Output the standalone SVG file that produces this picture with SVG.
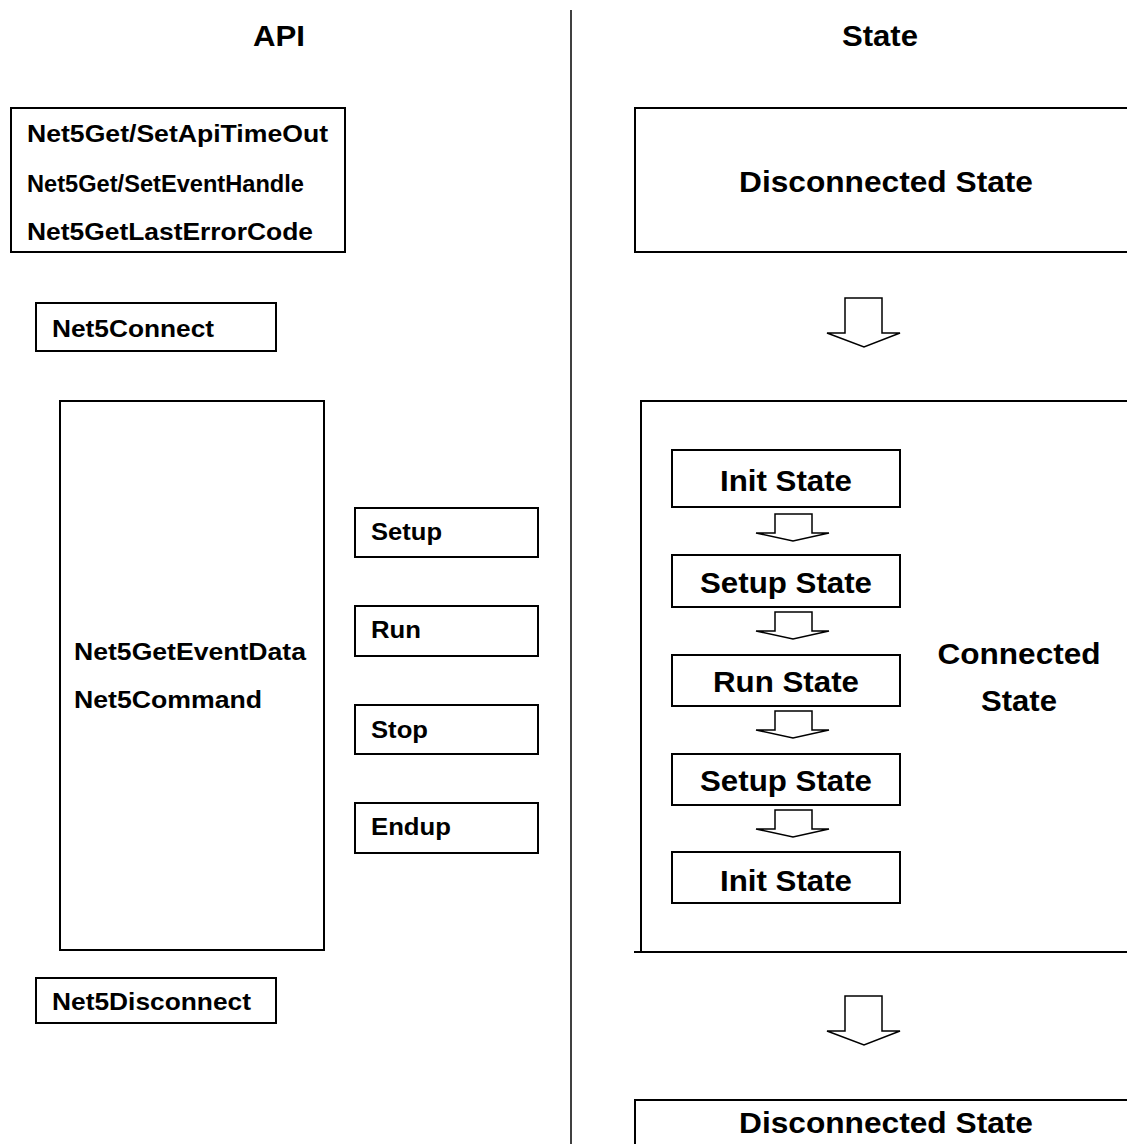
<svg xmlns="http://www.w3.org/2000/svg" width="1127" height="1144" viewBox="0 0 1127 1144">
  <style>
    .box { fill: #fff; stroke: #000; stroke-width: 2; }
    .edge { fill: none; stroke: #000; stroke-width: 2; }
    .flow { fill: #fff; stroke: #000; stroke-width: 1.5; stroke-linejoin: miter; }
    text { font-family: "Liberation Sans", Arial, sans-serif; font-weight: bold; fill: #000; }
    .hdr { font-size: 30px; text-anchor: middle; }
    .api { font-size: 24px; }
    .st { font-size: 29px; text-anchor: middle; }
  </style>
  <defs>
    <!-- hollow block arrow, large and small -->
    <path id="bigArrow" d="M-19,0 H18 V35 H36 L0,49 L-37,35 H-19 Z"/>
    <path id="smallArrow" d="M-18,0 H19 V19 H36 L0,27 L-37,19 H-18 Z"/>
  </defs>

  <rect width="1127" height="1144" fill="#fff"/>

  <!-- column divider and headings -->
  <g id="divider">
    <line x1="571" y1="10" x2="571" y2="1144" stroke="#000" stroke-width="1.5"/>
  </g>
  <g id="heading-api"><text class="hdr" x="279" y="46" textLength="52" lengthAdjust="spacingAndGlyphs">API</text></g>
  <g id="heading-state"><text class="hdr" x="880" y="46" textLength="76" lengthAdjust="spacingAndGlyphs">State</text></g>

  <!-- API column -->
  <g id="api-config">
    <rect class="box" x="11" y="108" width="334" height="144"/>
    <text class="api" x="27" y="142" textLength="301" lengthAdjust="spacingAndGlyphs">Net5Get/SetApiTimeOut</text>
    <text class="api" x="27" y="192" font-size="23" textLength="277" lengthAdjust="spacingAndGlyphs">Net5Get/SetEventHandle</text>
    <text class="api" x="27" y="240" textLength="286" lengthAdjust="spacingAndGlyphs">Net5GetLastErrorCode</text>
  </g>
  <g id="api-connect">
    <rect class="box" x="36" y="303" width="240" height="48"/>
    <text class="api" x="52" y="337" textLength="162" lengthAdjust="spacingAndGlyphs">Net5Connect</text>
  </g>
  <g id="api-session">
    <rect class="box" x="60" y="401" width="264" height="549"/>
    <text class="api" x="74" y="660" textLength="232" lengthAdjust="spacingAndGlyphs">Net5GetEventData</text>
    <text class="api" x="74" y="708" textLength="188" lengthAdjust="spacingAndGlyphs">Net5Command</text>
  </g>
  <g id="cmd-setup">
    <rect class="box" x="355" y="508" width="183" height="49"/>
    <text class="api" x="371" y="540" textLength="71" lengthAdjust="spacingAndGlyphs">Setup</text>
  </g>
  <g id="cmd-run">
    <rect class="box" x="355" y="606" width="183" height="50"/>
    <text class="api" x="371" y="638" textLength="50" lengthAdjust="spacingAndGlyphs">Run</text>
  </g>
  <g id="cmd-stop">
    <rect class="box" x="355" y="705" width="183" height="49"/>
    <text class="api" x="371" y="738" textLength="57" lengthAdjust="spacingAndGlyphs">Stop</text>
  </g>
  <g id="cmd-endup">
    <rect class="box" x="355" y="803" width="183" height="50"/>
    <text class="api" x="371" y="835" textLength="80" lengthAdjust="spacingAndGlyphs">Endup</text>
  </g>
  <g id="api-disconnect">
    <rect class="box" x="36" y="978" width="240" height="45"/>
    <text class="api" x="52" y="1010" textLength="199" lengthAdjust="spacingAndGlyphs">Net5Disconnect</text>
  </g>

  <!-- State column -->
  <g id="state-disconnected-top">
    <rect class="box" x="635" y="108" width="600" height="144"/>
    <text class="st" x="886" y="192" textLength="294" lengthAdjust="spacingAndGlyphs">Disconnected State</text>
  </g>
  <g id="state-connected">
    <rect class="box" x="641" y="401" width="600" height="551"/>
    <line class="edge" x1="634" y1="952" x2="642" y2="952"/>
    <text class="st" x="1019" y="664" textLength="163" lengthAdjust="spacingAndGlyphs">Connected</text>
    <text class="st" x="1019" y="711" textLength="76" lengthAdjust="spacingAndGlyphs">State</text>
  </g>
  <g id="sub-init-1">
    <rect class="box" x="672" y="450" width="228" height="57"/>
    <text class="st" x="786" y="491" textLength="132" lengthAdjust="spacingAndGlyphs">Init State</text>
  </g>
  <g id="sub-setup-1">
    <rect class="box" x="672" y="555" width="228" height="52"/>
    <text class="st" x="786" y="593" textLength="172" lengthAdjust="spacingAndGlyphs">Setup State</text>
  </g>
  <g id="sub-run">
    <rect class="box" x="672" y="655" width="228" height="51"/>
    <text class="st" x="786" y="692" textLength="146" lengthAdjust="spacingAndGlyphs">Run State</text>
  </g>
  <g id="sub-setup-2">
    <rect class="box" x="672" y="754" width="228" height="51"/>
    <text class="st" x="786" y="791" textLength="172" lengthAdjust="spacingAndGlyphs">Setup State</text>
  </g>
  <g id="sub-init-2">
    <rect class="box" x="672" y="852" width="228" height="51"/>
    <text class="st" x="786" y="891" textLength="132" lengthAdjust="spacingAndGlyphs">Init State</text>
  </g>
  <g id="state-disconnected-bottom">
    <rect class="box" x="635" y="1100" width="600" height="80"/>
    <text class="st" x="886" y="1133" textLength="294" lengthAdjust="spacingAndGlyphs">Disconnected State</text>
  </g>

  <!-- transitions -->
  <g id="connectors">
    <use href="#bigArrow" class="flow" x="864" y="298"/>
    <use href="#smallArrow" class="flow" x="793" y="514"/>
    <use href="#smallArrow" class="flow" x="793" y="612"/>
    <use href="#smallArrow" class="flow" x="793" y="711"/>
    <use href="#smallArrow" class="flow" x="793" y="810"/>
    <use href="#bigArrow" class="flow" x="864" y="996"/>
  </g>
</svg>
